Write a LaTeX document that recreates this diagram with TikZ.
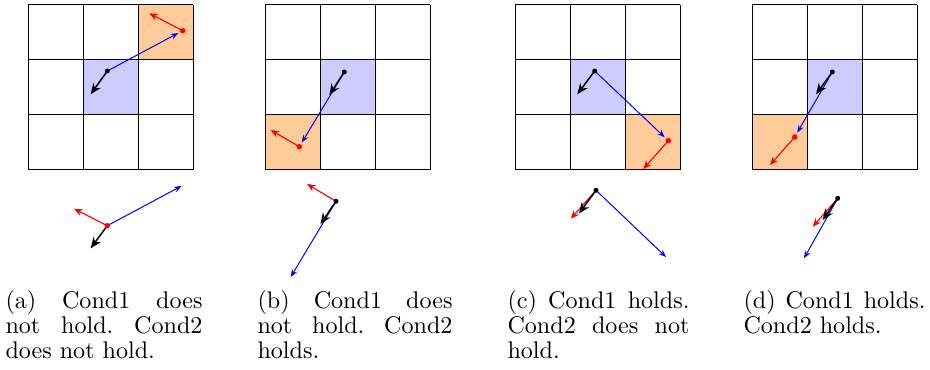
\documentclass[tikz,border=0pt]{standalone}
\usetikzlibrary{arrows.meta}
\begin{document}
\begin{tikzpicture}[x=0.4pt,y=-0.4pt,
  gridline/.style={line width=0.4pt},
  bluecell/.style={fill=blue!20},
  orangecell/.style={fill=orange!40},
  blackvec/.style={line width=0.6pt,-{Stealth[length=4.4pt,width=3.6pt]}},
  redvec/.style={red,line width=0.45pt,-{Stealth[length=3.4pt,width=2.8pt]}},
  bluevec/.style={blue,line width=0.4pt,-{Stealth[length=3pt,width=2.3pt]}},
  bdot/.style={circle,fill=black,inner sep=0pt,minimum size=2pt},
  rdot/.style={circle,fill=red,inner sep=0pt,minimum size=2.2pt},
  captext/.style={anchor=north west,inner sep=0pt,align=left,font=\fontsize{9.64}{10}\selectfont\frenchspacing}
]
\path[use as bounding box,fill=white] (0,0) rectangle (930,370);

% ---------- cell fills ----------
\fill[bluecell] (83,60) rectangle (138,115);
\fill[orangecell] (138,5) rectangle (193,60);
\fill[bluecell] (320,60) rectangle (375,115);
\fill[orangecell] (265,115) rectangle (320,170);
\fill[bluecell] (570,60) rectangle (625,115);
\fill[orangecell] (625,115) rectangle (680,170);
\fill[bluecell] (807,60) rectangle (862,115);
\fill[orangecell] (752,115) rectangle (807,170);

% ---------- grids ----------
\foreach \gx in {28,265,515,752}{
  \foreach \i in {0,1,2,3}{
    \draw[gridline] (\gx+55*\i,5) -- (\gx+55*\i,170);
    \draw[gridline] (\gx,5+55*\i) -- (\gx+165,5+55*\i);
  }
}

% ---------- panel (a) ----------
\coordinate (Ba) at (107.3,71);
\coordinate (Ra) at (182.7,30.7);
\coordinate (kA) at (90.7,94.3);
\coordinate (rA) at (149.3,13.3);
\draw[bluevec,shorten >=2pt] (Ba) -- (Ra);
\draw[blackvec] (Ba) -- (kA);
\draw[redvec] (Ra) -- (rA);
\node[bdot] (Ban) at (Ba) {};
\node[rdot] (Ran) at (Ra) {};
\coordinate (Ra2) at (107.3,225.7);
\coordinate (kA2) at (90.7,248.3);
\coordinate (rA2) at (74,208.7);
\coordinate (bA2) at (181.5,186);
\draw[bluevec] (Ra2) -- (bA2);
\draw[blackvec] (Ra2) -- (kA2);
\draw[redvec] (Ra2) -- (rA2);
\node[rdot] (Ra2n) at (Ra2) {};

% ---------- panel (b) ----------
\coordinate (Bb) at (344.3,72);
\coordinate (Rb) at (299.3,146.7);
\coordinate (kB) at (329.3,95);
\coordinate (rB) at (270.7,130);
\draw[bluevec,shorten >=2pt] (Bb) -- (Rb);
\draw[blackvec] (Bb) -- (kB);
\draw[redvec] (Rb) -- (rB);
\node[bdot] (Bbn) at (Bb) {};
\node[rdot] (Rbn) at (Rb) {};
\coordinate (Bb2) at (336,201.3);
\coordinate (kB2) at (320.5,224);
\coordinate (rB2) at (307,184);
\coordinate (bB2) at (290.7,277);
\draw[bluevec] (Bb2) -- (bB2);
\draw[redvec] (Bb2) -- (rB2);
\draw[blackvec] (Bb2) -- (kB2);
\node[bdot] (Bb2n) at (Bb2) {};

% ---------- panel (c) ----------
\coordinate (Bc) at (594.7,71);
\coordinate (Rc) at (668.3,140.7);
\coordinate (kC) at (577.3,94.3);
\coordinate (rC) at (643.3,169);
\draw[bluevec,shorten >=2pt] (Bc) -- (Rc);
\draw[blackvec] (Bc) -- (kC);
\draw[redvec] (Rc) -- (rC);
\node[bdot] (Bcn) at (Bc) {};
\node[rdot] (Rcn) at (Rc) {};
\coordinate (Bc2) at (596,190.3);
\coordinate (kC2) at (579,213.5);
\coordinate (rC2) at (570.7,218.7);
\coordinate (bC2) at (666,257);
\draw[bluevec] (Bc2) -- (bC2);
\draw[redvec] (Bc2) -- (rC2);
\draw[blackvec] (Bc2) -- (kC2);
\node[bdot] (Bc2n) at (Bc2) {};

% ---------- panel (d) ----------
\coordinate (Bd) at (832.3,72);
\coordinate (Rd) at (794.7,137);
\coordinate (kD) at (816,94.3);
\coordinate (rD) at (770,165);
\draw[bluevec,shorten >=2pt] (Bd) -- (Rd);
\draw[blackvec] (Bd) -- (kD);
\draw[redvec] (Rd) -- (rD);
\node[bdot] (Bdn) at (Bd) {};
\node[rdot] (Rdn) at (Rd) {};
\coordinate (Bd2) at (837.7,198.3);
\coordinate (kD2) at (822.7,220);
\coordinate (rD2) at (812.7,226.7);
\coordinate (bD2) at (804,258.3);
\draw[bluevec] (Bd2) -- (bD2);
\draw[redvec] (Bd2) -- (rD2);
\draw[blackvec] (Bd2) -- (kD2);
\node[bdot] (Bd2n) at (Bd2) {};

% ---------- captions ----------
\node[captext] (capa) at (5,290) {\makebox[78.8pt][s]{(a) Cond1 does}\\\makebox[78.8pt][s]{not hold. Cond2}\\does not hold.};
\node[captext] (capb) at (257,290) {\makebox[78pt][s]{(b) Cond1 does}\\\makebox[78pt][s]{not hold. Cond2}\\holds.};
\node[captext] (capc) at (507,290) {\makebox[72.8pt][s]{(c) Cond1 holds.}\\\makebox[72.8pt][s]{Cond2 does not}\\hold.};
\node[captext] (capd) at (743,290) {\makebox[72.8pt][s]{(d) Cond1 holds.}\\Cond2 holds.};
\end{tikzpicture}
\end{document}
